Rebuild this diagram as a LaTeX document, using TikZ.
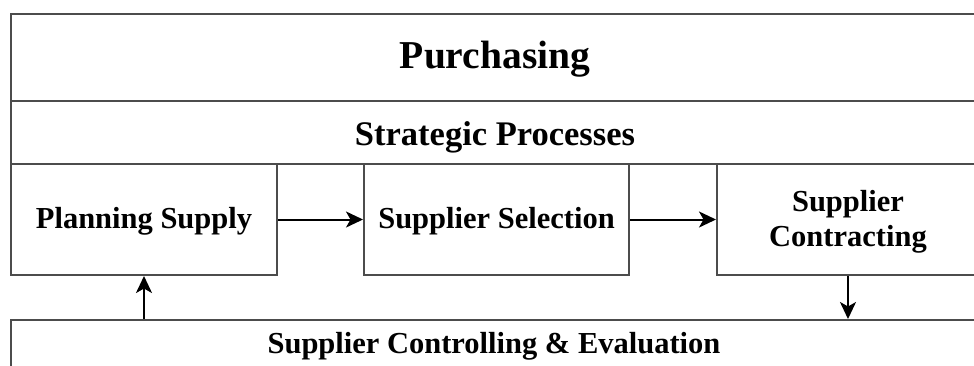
\documentclass[tikz,border=0pt]{standalone}
\usepackage{fontspec}
\setmainfont{Liberation Serif}
\usetikzlibrary{arrows.meta}

\tikzset{
  frame/.style={draw=black!70, line width=2pt, inner sep=0pt, anchor=north west},
  stepfont/.style={font=\fontsize{30.5}{35}\selectfont\bfseries},
  stepbox/.style={frame, stepfont, align=center, text height=17pt, text depth=0pt},
  subtitle/.style={frame, font=\fontsize{34.5}{40}\selectfont\bfseries, text height=25pt, text depth=0pt},
  title/.style={frame, font=\fontsize{39.5}{46}\selectfont\bfseries, text height=21pt, text depth=0pt},
  flow/.style={draw=black, line width=2pt, -{Stealth[length=17pt, width=16pt, inset=4.5pt]}}
}

\begin{document}
\begin{tikzpicture}[x=1pt, y=-1pt]
  \path[use as bounding box, clip] (0,0) rectangle (974,365);
  \fill[white] (0,0) rectangle (974,365);

  % header rows
  \node[title, minimum width=968pt, minimum height=87pt] (purch) at (10,13) {Purchasing};
  \node[subtitle, minimum width=968pt, minimum height=63pt] (strat) at (10,100) {Strategic Processes};

  % process steps
  \node[stepbox, minimum width=266pt, minimum height=111pt] (plan) at (10,163) {Planning Supply};
  \node[stepbox, minimum width=265pt, minimum height=111pt] (sel) at (363,163) {Supplier Selection};
  \node[stepbox, minimum width=262pt, minimum height=111pt, text height=55pt, text depth=2pt] (contr) at (716,163) {Supplier\\Contracting};

  % controlling and evaluation (continues below the visible area)
  \node[frame, minimum width=968pt, minimum height=90pt] (ctrl) at (10,319) {};
  \node[stepfont, anchor=base] (ctrltext) at (494,353) {Supplier Controlling \& Evaluation};

  % connectors
  \draw[flow] (plan.east) -- (sel.west);
  \draw[flow] (sel.east) -- (contr.west);
  \draw[flow] (contr.south -| 848,0) -- (ctrl.north -| 848,0);
  \draw[flow] (ctrl.north -| plan.south) -- (plan.south);
\end{tikzpicture}
\end{document}
